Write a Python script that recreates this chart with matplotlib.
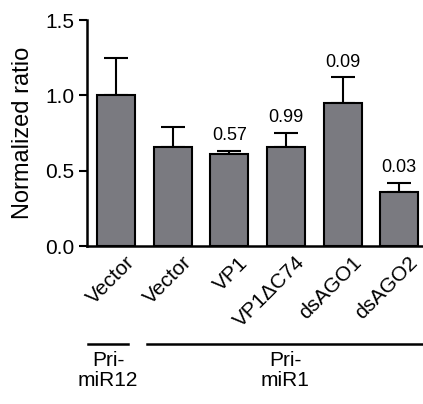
import matplotlib
matplotlib.use("Agg")
import matplotlib.pyplot as plt
from matplotlib.transforms import blended_transform_factory, ScaledTranslation

plt.rcParams["font.family"] = ["Liberation Sans", "DejaVu Sans"]

# ----- data -----
labels = ["Vector", "Vector", "VP1", "VP1\u0394C74", "dsAGO1", "dsAGO2"]
values = [1.00, 0.66, 0.61, 0.66, 0.95, 0.36]
errors = [0.25, 0.13, 0.02, 0.09, 0.17, 0.06]
pvals = ["", "", "0.57", "0.99", "0.09", "0.03"]
group_names = ["Pri-\nmiR12", "Pri-\nmiR1"]
group_spans = [(-0.49, 0.21), (0.55, 5.5)]

BAR_COLOR = "#7a7a80"

fig = plt.figure(figsize=(4.23, 4.04), dpi=100)
ax = fig.add_axes([0.206, 0.391, 0.794, 0.559])

x = list(range(len(values)))
ax.bar(x, values, width=0.67, color=BAR_COLOR, edgecolor="black",
       linewidth=1.5, zorder=2)
ax.errorbar(x, values, yerr=[[0] * len(errors), errors], fmt="none",
            ecolor="black", elinewidth=1.5, capsize=8.5, capthick=1.5, zorder=1)

for xi, v, e, p in zip(x, values, errors, pvals):
    if p:
        ax.text(xi, v + e + 0.045, p, ha="center", va="bottom", fontsize=13)

ax.set_xlim(-0.51, 5.42)
ax.set_ylim(0, 1.5)
ax.set_yticks([0.0, 0.5, 1.0, 1.5])
ax.set_yticklabels(["0.0", "0.5", "1.0", "1.5"], fontsize=15)
ax.set_ylabel("Normalized ratio", fontsize=17, labelpad=8)

ax.set_xticks(x)
ax.set_xticklabels(labels, rotation=45, ha="right", va="top",
                   rotation_mode="anchor", fontsize=15)
ax.tick_params(axis="x", length=0, pad=5)
ax.tick_params(axis="y", length=6, width=1.5, direction="out", pad=3)
shift = ScaledTranslation(0.09, 0, fig.dpi_scale_trans)
for lbl in ax.get_xticklabels():
    lbl.set_transform(lbl.get_transform() + shift)

for s in ["top", "right"]:
    ax.spines[s].set_visible(False)
for s in ["left", "bottom"]:
    ax.spines[s].set_linewidth(1.8)

# ----- group brackets -----
trans = blended_transform_factory(ax.transData, fig.transFigure)
for (x0, x1), name in zip(group_spans, group_names):
    ax.plot([x0, x1], [0.1485, 0.1485], color="black", linewidth=1.8,
            transform=trans, clip_on=False)
    xc = (x0 + min(x1, 5.42)) / 2
    ax.text(xc, 0.13, name, ha="center", va="top", fontsize=15,
            transform=trans, linespacing=1.05)

fig.savefig("out.png", dpi=100)
plt.close(fig)
